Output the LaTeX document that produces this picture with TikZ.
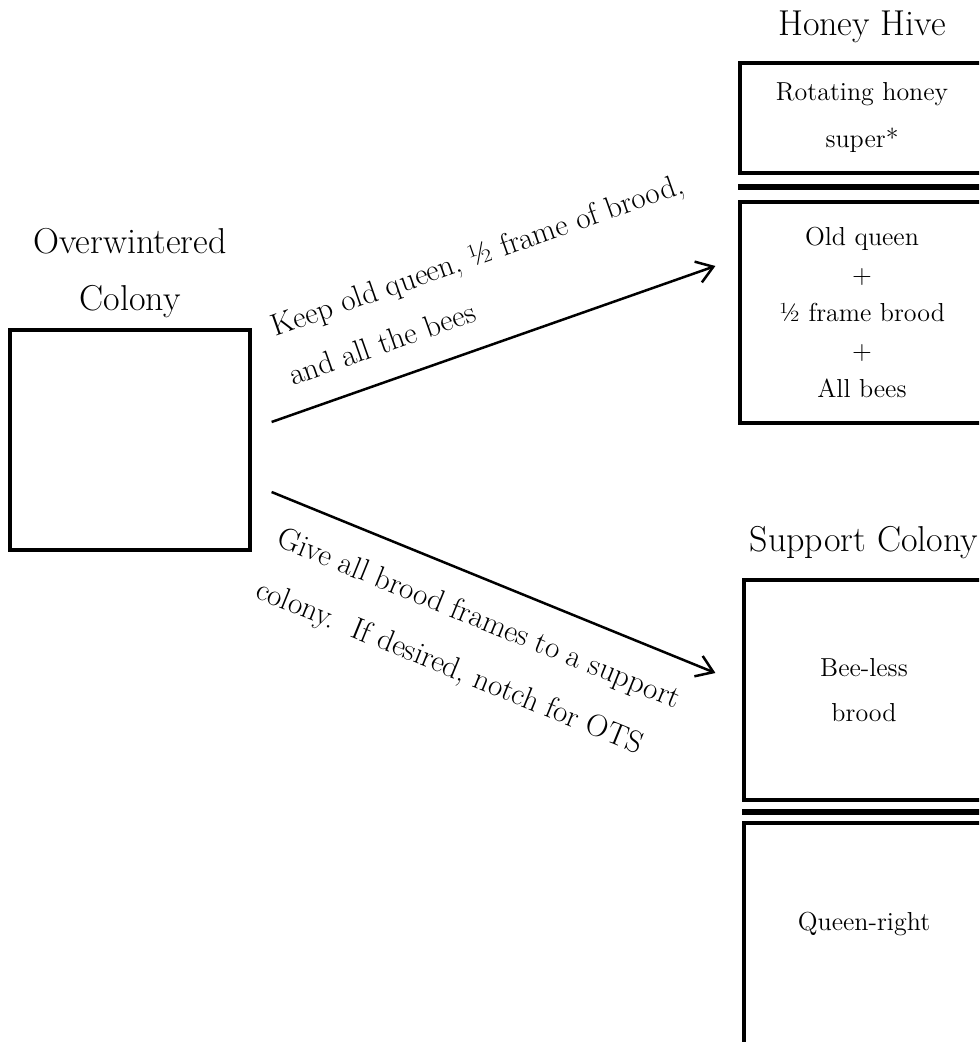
\documentclass[tikz,border=0pt]{standalone}
\usepackage{tikz}
\usetikzlibrary{arrows.meta,positioning,calc}

\begin{document}
\begin{tikzpicture}[x=0.5pt,y=-0.5pt,
    box/.style={draw,line width=1.6pt,align=center,inner sep=0pt,font=\fontsize{13}{19}\selectfont},
    title/.style={align=center,inner sep=0pt,font=\fontsize{18}{28.5}\selectfont},
    lbl/.style={align=left,inner sep=0pt,font=\fontsize{15.5}{26}\selectfont},
    bar/.style={line width=3pt},
    arr/.style={-{Straight Barb[length=8pt,width=11pt]},line width=1.25pt}]
        \useasboundingbox (0,0) rectangle (979,1042);
        \clip (0,0) rectangle (979,1042);

        % left side colony
        \node[box,minimum width=120pt,minimum height=110pt] (colony) at (130,440) {};
        \node[title,above=5.2pt of colony] (colonyTitle) {Overwintered\\Colony};

        % honey hive boxes
        \node[box,minimum width=122pt,minimum height=55pt,font=\fontsize{13}{23.5}\selectfont] (hSuper) at (862,118) {Rotating honey\\super*};
        \node[box,minimum width=122pt,minimum height=110.5pt] (hBrood) at (862,312.5) {Old queen\\+\\½ frame brood\\+\\All bees};
        \node[title,above=9.2pt of hSuper] (hiveTitle) {Honey Hive};
        \draw[bar] ($(hSuper.south west)!.5!(hBrood.north west)$) -- ($(hSuper.south east)!.5!(hBrood.north east)$);

        % support colony boxes
        \node[box,minimum width=120pt,minimum height=110pt,font=\fontsize{13}{22.5}\selectfont] (sBrood) at (864,690) {Bee-less\\brood};
        \node[box,minimum width=120pt,minimum height=130pt,text height=9pt,text depth=32pt] (sQueen) at (864,953) {Queen-right};
        \node[title,above=9.5pt of sBrood] (supportTitle) {Support Colony};
        \draw[bar] ($(sBrood.south west)!.5!(sQueen.north west)$) -- ($(sBrood.south east)!.5!(sQueen.north east)$);

        % arrows with their notes
        \draw[arr] ([xshift=10pt,yshift=9pt]colony.east) -- node[lbl,sloped,above=12.75pt,pos=0.53] {Keep old queen, ½ frame of brood,\\and all the bees} ([xshift=-11.5pt,yshift=23.25pt]hBrood.west);
        \draw[arr] ([xshift=10pt,yshift=-26pt]colony.east) -- node[lbl,sloped,below=12.6pt,pos=0.50,font=\fontsize{15.5}{28}\selectfont] {Give all brood frames to a support\\colony.\ \ If desired, notch for OTS} ([xshift=-13.5pt,yshift=8.5pt]sBrood.west);

\end{tikzpicture}
\end{document}
